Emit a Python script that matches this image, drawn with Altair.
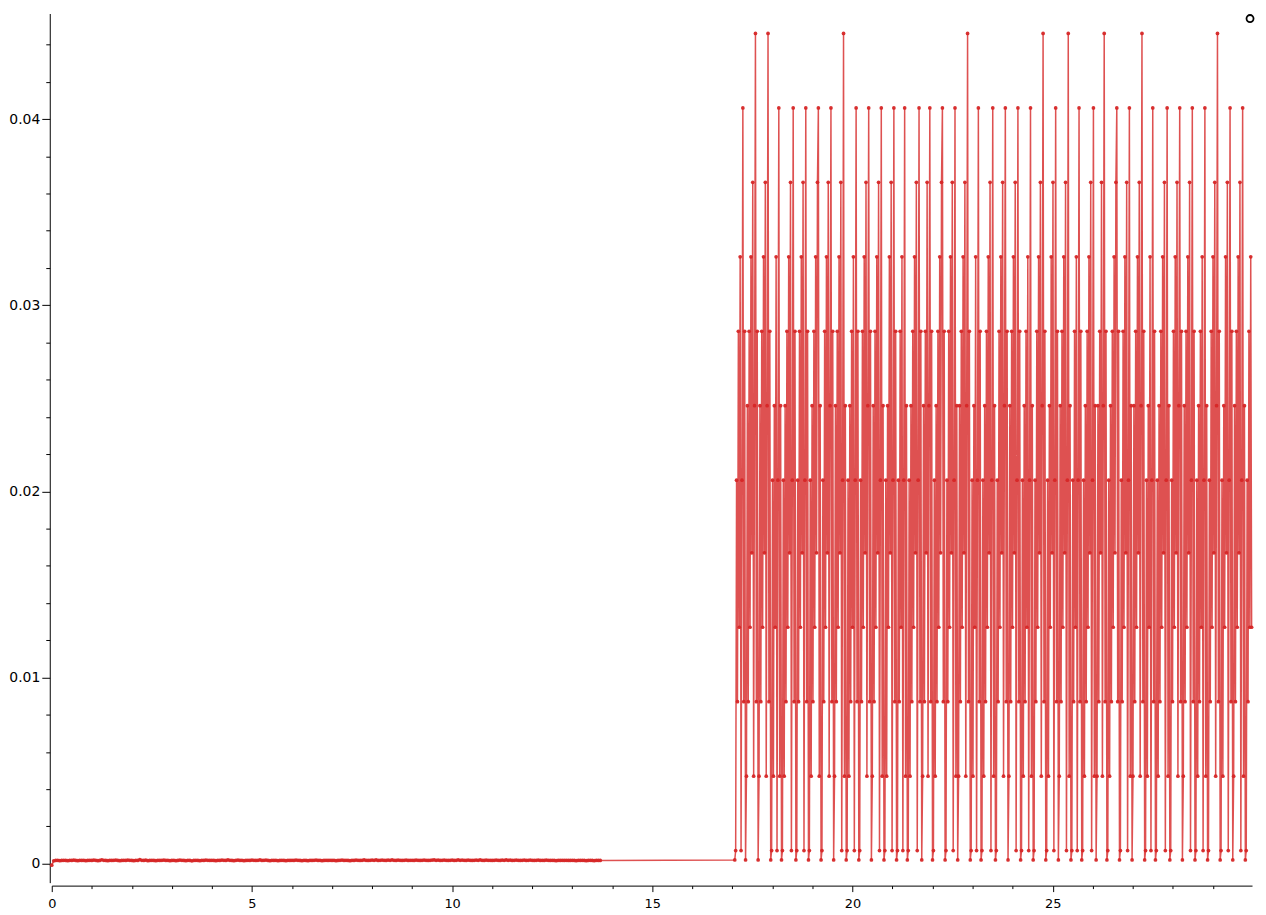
import altair as alt
import pandas as pd
import numpy as np

# Discrete levels the signal takes after the switch (index 0 = resting baseline)
LEVELS = [0.0002, 0.0007, 0.0047, 0.0087, 0.0127, 0.0167, 0.0206,
          0.0246, 0.0286, 0.0326, 0.0366, 0.0406, 0.0446]

# Quiet part: samples from t=0 to t=13.7 (values in units of 1e-5)
NOISE_T_START = 0.0
NOISE_T_END = 13.7
NOISE = [
    -8, 15, 17, 18, 16, 17, 18, 17, 16, 18, 17, 19, 17, 16, 18, 17, 18, 16, 17, 18,
    17, 19, 18, 16, 17, 21, 18, 17, 16, 18, 17, 18, 19, 17, 16, 17, 18, 17, 19, 18,
    17, 16, 18, 17, 22, 18, 17, 19, 16, 17, 18, 17, 16, 18, 17, 18, 19, 17, 18, 16,
    17, 18, 16, 17, 19, 18, 17, 16, 18, 17, 15, 17, 18, 17, 16, 18, 17, 19, 18, 17,
    18, 17, 16, 18, 17, 19, 18, 17, 20, 18, 17, 16, 18, 19, 17, 18, 16, 17, 18, 17,
    19, 18, 17, 18, 20, 17, 18, 19, 17, 16, 18, 17, 18, 16, 17, 18, 17, 16, 18, 17,
    18, 17, 19, 18, 17, 16, 18, 17, 16, 18, 17, 18, 19, 17, 18, 16, 17, 18, 17, 18,
    17, 18, 16, 17, 18, 19, 17, 18, 17, 16, 18, 17, 19, 18, 17, 18, 20, 18, 17, 18,
    19, 18, 20, 17, 18, 19, 18, 17, 19, 18, 20, 18, 17, 19, 18, 17, 18, 19, 17, 18,
    18, 17, 19, 18, 17, 18, 19, 18, 17, 18, 19, 20, 18, 19, 17, 18, 19, 18, 17, 18,
    19, 17, 18, 20, 18, 19, 18, 17, 19, 18, 17, 18, 19, 18, 20, 18, 17, 19, 18, 18,
    17, 18, 19, 18, 17, 19, 18, 20, 18, 19, 17, 18, 19, 18, 17, 18, 19, 17, 18, 19,
    18, 17, 18, 19, 17, 18, 17, 19, 18, 17, 18, 17, 16, 18, 17, 18, 17, 18, 17, 17,
    18, 17, 16, 18, 17, 18, 17, 16, 17, 18, 17, 16, 18, 17, 17,
]

# Oscillating part: samples from t=17.06 to t=29.97, level index per sample, grouped by cycle
OSC_T_START = 17.06
OSC_T_END = 29.97
CYCLES = [
    [0, 1, 6, 3, 8, 4, 9, 1, 6, 11, 3, 8],
    [0, 2, 7, 3, 8, 4, 9, 5, 10, 2, 7, 12, 3, 8],
    [0, 2, 7, 3, 8, 4, 9, 5, 10, 2, 7, 12, 3, 8],
    [0, 1, 6, 2, 7, 4, 9, 1, 6, 11, 2, 7],
    [0, 1, 6, 2, 7, 3, 8, 4, 9, 5, 10, 1, 6, 11, 3, 8],
    [0, 1, 6, 3, 8, 4, 9, 5, 10, 1, 6, 11, 3, 8],
    [0, 1, 6, 2, 7, 3, 8, 4, 9, 5, 10, 11, 2, 7],
    [0, 1, 6, 3, 8, 4, 9, 5, 10, 2, 7, 11, 3, 8],
    [0, 2, 7, 3, 8, 4, 9, 5, 10, 1, 6, 12, 2, 7],
    [0, 1, 6, 2, 7, 3, 8, 4, 9, 1, 6, 11, 3, 8],
    [0, 1, 6, 3, 8, 4, 9, 5, 10, 2, 7, 11, 3, 8],
    [0, 2, 7, 3, 8, 4, 9, 5, 10, 1, 6, 11, 2, 7],
    [0, 1, 6, 2, 7, 4, 9, 5, 10, 1, 6, 11, 3, 8],
    [0, 1, 6, 3, 8, 4, 9, 1, 6, 11, 2, 7],
    [0, 1, 6, 2, 7, 3, 8, 4, 9, 5, 10, 1, 6, 11, 3, 8],
    [0, 2, 7, 3, 8, 5, 10, 2, 7, 11, 3, 8],
    [0, 1, 6, 2, 7, 3, 8, 4, 9, 5, 10, 11, 3, 8],
    [0, 1, 6, 3, 8, 4, 9, 5, 10, 1, 6, 11, 2, 7],
    [0, 2, 7, 3, 8, 4, 9, 5, 10, 2, 7, 12, 3, 8],
    [0, 1, 6, 2, 7, 4, 9, 1, 6, 11, 3, 8],
    [0, 1, 6, 2, 7, 3, 8, 4, 9, 5, 10, 1, 6, 11, 2, 7],
    [0, 1, 6, 3, 8, 4, 9, 5, 10, 2, 7, 11, 3, 8],
    [0, 2, 7, 3, 8, 4, 9, 5, 10, 1, 6, 11, 3, 8],
    [0, 1, 6, 2, 7, 3, 8, 4, 9, 1, 6, 11, 2, 7],
    [0, 1, 6, 3, 8, 4, 9, 5, 10, 2, 7, 12, 3, 8],
    [0, 1, 6, 2, 7, 4, 9, 5, 10, 1, 6, 11, 3, 8],
    [0, 2, 7, 3, 8, 4, 9, 5, 10, 1, 6, 12, 2, 7],
    [0, 1, 6, 3, 8, 4, 9, 1, 6, 11, 3, 8],
    [0, 1, 6, 2, 7, 3, 8, 4, 9, 5, 10, 1, 6, 11, 2, 7],
    [0, 2, 7, 3, 8, 5, 10, 2, 7, 12, 3, 8],
    [0, 1, 6, 2, 7, 3, 8, 4, 9, 5, 10, 11, 3, 8],
    [0, 1, 6, 3, 8, 4, 9, 5, 10, 1, 6, 11, 2, 7],
    [0, 2, 7, 3, 8, 4, 9, 5, 10, 2, 7, 12, 3, 8],
    [0, 1, 6, 2, 7, 4, 9, 1, 6, 11, 3, 8],
    [0, 1, 6, 2, 7, 3, 8, 4, 9, 5, 10, 1, 6, 11, 2, 7],
    [0, 1, 6, 3, 8, 4, 9, 5, 10, 2, 7, 11, 3, 8],
    [0, 2, 7, 3, 8, 4, 9, 5, 10, 1, 6, 11, 3, 8],
    [0, 1, 6, 2, 7, 3, 8, 4, 9, 1, 6, 11, 2, 7],
    [0, 1, 6, 3, 8, 4, 9, 5, 10, 2, 7, 12, 3, 8],
    [0, 1, 6, 2, 7, 4, 9, 5, 10, 1, 6, 11, 3, 8],
    [0, 2, 7, 3, 8, 4, 9, 5, 10, 1, 6, 11, 2, 7],
    [0, 1, 6, 3, 8, 4, 9, 4],
]

# Separate black marker in the upper-right corner
MARKER_T = [29.93]
MARKER_V = [0.0454]

X_TICKS = [0, 5, 10, 15, 20, 25]
X_MINOR = [1, 2, 3, 4, 6, 7, 8, 9, 11, 12, 13, 14, 16, 17, 18, 19,
           21, 22, 23, 24, 26, 27, 28, 29]
Y_TICKS = [0, 0.01, 0.02, 0.03, 0.04]
Y_MINOR = [0.002, 0.004, 0.006, 0.008, 0.012, 0.014, 0.016, 0.018,
           0.022, 0.024, 0.026, 0.028, 0.032, 0.034, 0.036, 0.038,
           0.042, 0.044]

RED = "#d62626"
FONT = "DejaVu Sans"

# ---- build table ----
noise_t = np.linspace(NOISE_T_START, NOISE_T_END, len(NOISE))
noise_v = [n * 1e-5 for n in NOISE]
osc_idx = [k for cyc in CYCLES for k in cyc]
osc_t = np.linspace(OSC_T_START, OSC_T_END, len(osc_idx))
osc_v = [LEVELS[k] for k in osc_idx]

t_all = list(noise_t) + list(osc_t)
v_all = noise_v + osc_v
df = pd.DataFrame({"t": t_all, "v": v_all, "i": range(len(t_all))})
mdf = pd.DataFrame({"t": MARKER_T, "v": MARKER_V})

xs = alt.Scale(domain=[0, 29.98], nice=False, zero=False)
ys = alt.Scale(domain=[-0.00102, 0.04567], nice=False, zero=False)

major_x = alt.Axis(values=X_TICKS, orient="bottom", offset=3, tickSize=6, grid=False,
                   domainColor="black", tickColor="black", labelColor="black",
                   labelFont=FONT, labelFontSize=13, labelPadding=6, title=None,
                   labelFlush=False)
major_y = alt.Axis(values=Y_TICKS, orient="left", offset=2, tickSize=8, grid=False,
                   domainColor="black", tickColor="black", labelColor="black",
                   labelFont=FONT, labelFontSize=14, labelPadding=2, title=None,
                   format=".2~f", labelFlush=False)
minor_x = alt.Axis(values=X_MINOR, orient="bottom", offset=3, tickSize=3, grid=False,
                   domain=False, labels=False, tickColor="black", title=None)
minor_y = alt.Axis(values=Y_MINOR, orient="left", offset=2, tickSize=4, grid=False,
                   domain=False, labels=False, tickColor="black", title=None)

line = alt.Chart(df).mark_line(color=RED, opacity=0.8, strokeWidth=1.5).encode(
    x=alt.X("t:Q", scale=xs, axis=major_x),
    y=alt.Y("v:Q", scale=ys, axis=major_y),
    order=alt.Order("i:Q"),
)
pts = alt.Chart(df).mark_circle(color=RED, size=14, opacity=0.95).encode(
    x=alt.X("t:Q", scale=xs, axis=minor_x),
    y=alt.Y("v:Q", scale=ys, axis=minor_y),
)
marker = alt.Chart(mdf).mark_point(shape="circle", filled=False, color="black",
                                   size=50, strokeWidth=1.8, opacity=1).encode(
    x=alt.X("t:Q", scale=xs, axis=None),
    y=alt.Y("v:Q", scale=ys, axis=None),
)

chart = (
    alt.layer(line, pts, marker)
    .resolve_axis(x="independent", y="independent")
    .properties(width=1207, height=874,
                padding={"left": 0, "top": 0, "right": 0, "bottom": 0})
    .configure_view(stroke=None)
)

chart.save("out.html", embed_options={"renderer": "svg", "actions": False})
